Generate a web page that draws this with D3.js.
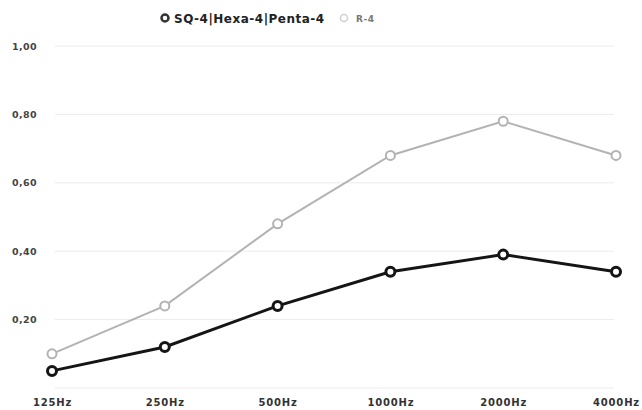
<!DOCTYPE html>
<html>
<head>
<meta charset="utf-8">
<script src="https://cdn.jsdelivr.net/npm/d3@7"></script>
<style>
  body { margin: 0; background: #fff; }
</style>
</head>
<body>
<svg id="chart" width="642" height="410"></svg>
<script>
let categories = ["125Hz", "250Hz", "500Hz", "1000Hz", "2000Hz", "4000Hz"];
let sqValues = [0.05, 0.12, 0.24, 0.34, 0.39, 0.34];
let rValues = [0.10, 0.24, 0.48, 0.68, 0.78, 0.68];
let yTicks = [0.2, 0.4, 0.6, 0.8, 1.0];
let seriesNames = ["SQ-4|Hexa-4|Penta-4", "R-4"];

let width = 642, height = 410;
let margin = { top: 46, right: 26, bottom: 22, left: 52 };
let font = "'DejaVu Sans', sans-serif";

let svg = d3.select("#chart");

// Scales
let xScale = d3.scalePoint()
  .domain(categories)
  .range([margin.left, width - margin.right]);

let yScale = d3.scaleLinear()
  .domain([0, 1])
  .range([height - margin.bottom, margin.top]);

// Grid lines
svg.append("g")
  .selectAll("line")
  .data([0].concat(yTicks))
  .join("line")
  .attr("x1", margin.left + 3)
  .attr("x2", width - margin.right - 2)
  .attr("y1", d => yScale(d))
  .attr("y2", d => yScale(d))
  .attr("stroke", "#ececec")
  .attr("stroke-width", 1);

// Y axis labels
let yAxis = d3.axisLeft(yScale)
  .tickValues(yTicks)
  .tickSize(0)
  .tickPadding(15)
  .tickFormat(d => d3.format(".2f")(d).replace(".", ","));

svg.append("g")
  .attr("transform", `translate(${margin.left},0)`)
  .call(yAxis)
  .call(g => g.select(".domain").remove())
  .selectAll("text")
  .attr("font-family", font)
  .attr("font-size", 9.5)
  .attr("font-weight", "bold")
  .attr("letter-spacing", 0.4)
  .attr("fill", "#444");

// X axis labels
let xAxis = d3.axisBottom(xScale).tickSize(0).tickPadding(11);

svg.append("g")
  .attr("transform", `translate(0,${height - margin.bottom})`)
  .call(xAxis)
  .call(g => g.select(".domain").remove())
  .selectAll("text")
  .attr("font-family", font)
  .attr("font-size", 10)
  .attr("font-weight", "bold")
  .attr("letter-spacing", 0.8)
  .attr("fill", "#333");

// Lines
let line = d3.line()
  .x((d, i) => xScale(categories[i]))
  .y(d => yScale(d));

let series = [
  { name: seriesNames[1], values: rValues, color: "#b3b3b3", width: 2 },
  { name: seriesNames[0], values: sqValues, color: "#151515", width: 3 }
];

series.forEach(s => {
  svg.append("path")
    .datum(s.values)
    .attr("fill", "none")
    .attr("stroke", s.color)
    .attr("stroke-width", s.width)
    .attr("d", line);

  svg.append("g")
    .selectAll("circle")
    .data(s.values)
    .join("circle")
    .attr("cx", (d, i) => xScale(categories[i]))
    .attr("cy", d => yScale(d))
    .attr("r", 4.5)
    .attr("fill", "#fff")
    .attr("stroke", s.color)
    .attr("stroke-width", s.width);
});

// Legend
let legend = svg.append("g").attr("font-family", font).attr("font-weight", "bold");

legend.append("circle")
  .attr("cx", 165).attr("cy", 18).attr("r", 3.5)
  .attr("fill", "#fff").attr("stroke", "#333").attr("stroke-width", 2.5);
legend.append("text")
  .attr("x", 174).attr("y", 22.5)
  .attr("font-size", 12)
  .attr("letter-spacing", 0.5)
  .attr("fill", "#222")
  .text(seriesNames[0]);

legend.append("circle")
  .attr("cx", 344).attr("cy", 18).attr("r", 3.5)
  .attr("fill", "#fff").attr("stroke", "#d0d0d0").attr("stroke-width", 1.5);
legend.append("text")
  .attr("x", 356).attr("y", 21.5)
  .attr("font-size", 9)
  .attr("letter-spacing", 0.5)
  .attr("fill", "#777")
  .text(seriesNames[1]);
</script>
</body>
</html>
